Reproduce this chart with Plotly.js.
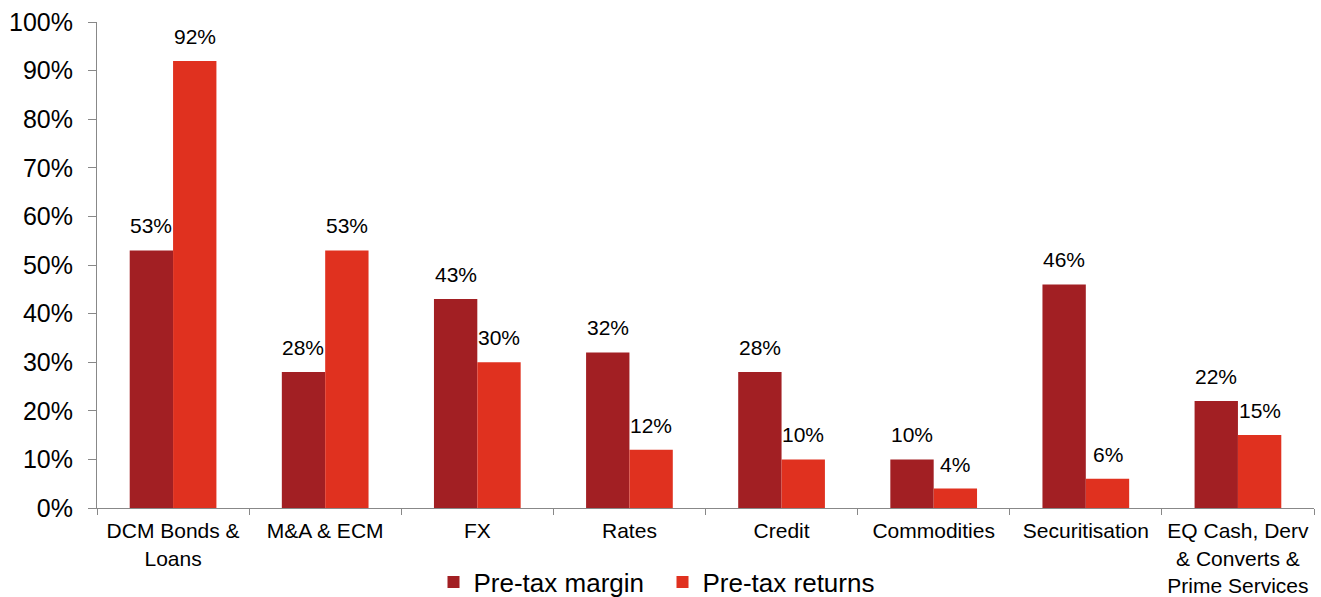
<!DOCTYPE html>
<html>
<head>
<meta charset="utf-8">
<script src="https://cdn.plot.ly/plotly-3.0.1.min.js"></script>
<style>body{margin:0;padding:0;background:#fff}#chart{width:1321px;height:597px}</style>
</head>
<body>
<div id="chart"></div>
<script>
var categories = ["DCM Bonds &<br>Loans", "M&A & ECM", "FX", "Rates", "Credit", "Commodities", "Securitisation", "EQ Cash, Derv<br>& Converts &<br>Prime Services"];
var preTaxMargin = [0.53, 0.28, 0.43, 0.32, 0.28, 0.10, 0.46, 0.22];
var preTaxReturns = [0.92, 0.53, 0.30, 0.12, 0.10, 0.04, 0.06, 0.15];
var yTickVals = [0, 0.1, 0.2, 0.3, 0.4, 0.5, 0.6, 0.7, 0.8, 0.9, 1.0];

var fontFam = "Liberation Sans, Arial, sans-serif";
function pct(v){ return Math.round(v*100) + "%"; }

var traces = [
  {
    type: "bar", name: "Pre-tax margin", x: categories, y: preTaxMargin,
    marker: {color: "#A21F23"}, hoverinfo: "none"
  },
  {
    type: "bar", name: "Pre-tax returns", x: categories, y: preTaxReturns,
    marker: {color: "#E0311F"}, hoverinfo: "none"
  }
];

var barHalf = 21.7;
var annotations = [];
categories.forEach(function(c, i){
  annotations.push({x: c, y: preTaxMargin[i], xref: "x", yref: "y", text: pct(preTaxMargin[i]),
    showarrow: false, xshift: -barHalf, yshift: 11, yanchor: "bottom",
    font: {family: fontFam, size: 21, color: "#000"}});
  annotations.push({x: c, y: preTaxReturns[i], xref: "x", yref: "y", text: pct(preTaxReturns[i]),
    showarrow: false, xshift: barHalf, yshift: 11, yanchor: "bottom",
    font: {family: fontFam, size: 21, color: "#000"}});
});

var layout = {
  width: 1321, height: 597,
  margin: {l: 97, r: 7, t: 22, b: 89},
  paper_bgcolor: "#fff", plot_bgcolor: "#fff",
  barmode: "group", bargap: 0.43, bargroupgap: 0,
  font: {family: fontFam, color: "#000"},
  showlegend: true,
  annotations: annotations,
  legend: {
    orientation: "h", x: 0.2765, xanchor: "left", xref: "paper",
    y: 0.025, yanchor: "middle", yref: "container",
    font: {family: fontFam, size: 26, color: "#000"},
    entrywidth: 184, entrywidthmode: "pixels",
    itemsizing: "constant", tracegroupgap: 0
  },
  xaxis: {
    type: "category", showline: true, linecolor: "#888", linewidth: 1,
    ticks: "outside", tickson: "boundaries", ticklen: 6, tickcolor: "#888",
    ticklabelstandoff: 4,
    tickfont: {family: fontFam, size: 21, color: "#000"},
    showgrid: false, zeroline: false, fixedrange: true, automargin: false
  },
  yaxis: {
    range: [0, 1.0], tickvals: yTickVals, tickformat: ".0%",
    showline: true, linecolor: "#888", linewidth: 1,
    ticks: "outside", ticklen: 8, tickcolor: "#888", ticklabelstandoff: 10,
    tickfont: {family: fontFam, size: 25, color: "#000"},
    showgrid: false, zeroline: false, fixedrange: true, automargin: false
  }
};

Plotly.newPlot("chart", traces, layout, {displayModeBar: false, staticPlot: true});
</script>
</body>
</html>
